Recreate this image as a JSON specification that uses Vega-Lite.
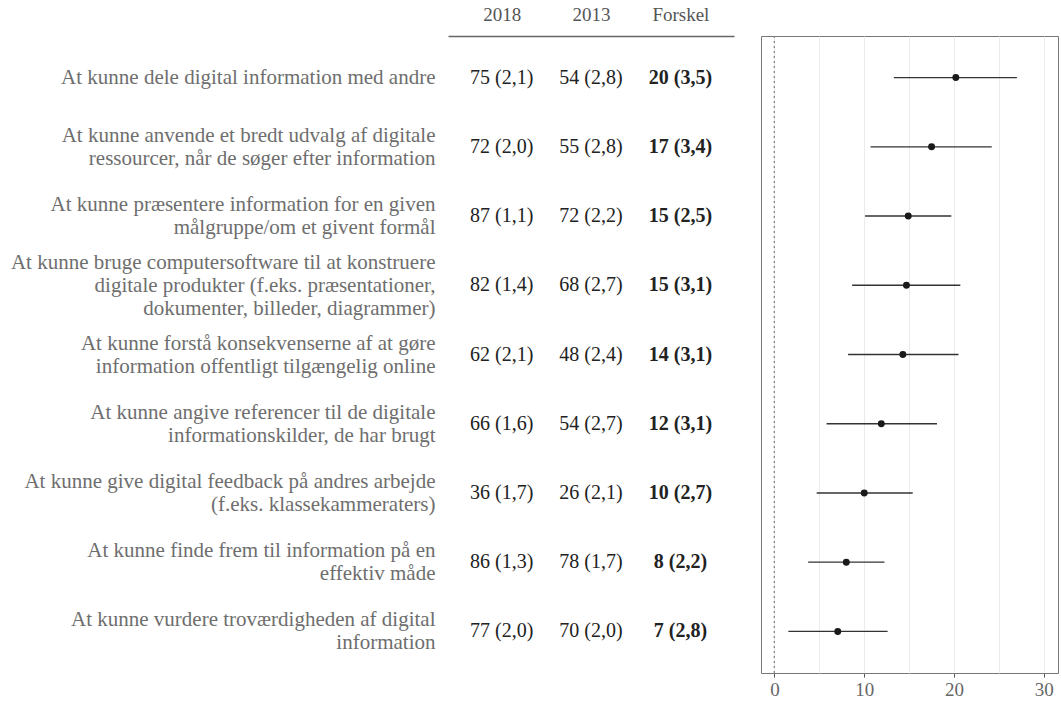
{
  "$schema": "https://vega.github.io/schema/vega-lite/v6.json",
  "padding": {"left": 5, "top": 5, "right": 0, "bottom": 0},
  "background": "white",
  "config": {
    "font": "Liberation Serif",
    "view": {"stroke": null},
    "concat": {"spacing": 26}
  },
  "data": {
    "values": [
      {"item": "At kunne dele digital information med andre", "t2018": "75 (2,1)", "t2013": "54 (2,8)", "tdiff": "20 (3,5)", "est": 20.2, "lo": 13.3, "hi": 27.0},
      {"item": "At kunne anvende et bredt udvalg af digitale\nressourcer, når de søger efter information", "t2018": "72 (2,0)", "t2013": "55 (2,8)", "tdiff": "17 (3,4)", "est": 17.5, "lo": 10.7, "hi": 24.2},
      {"item": "At kunne præsentere information for en given\nmålgruppe/om et givent formål", "t2018": "87 (1,1)", "t2013": "72 (2,2)", "tdiff": "15 (2,5)", "est": 14.9, "lo": 10.1, "hi": 19.7},
      {"item": "At kunne bruge computersoftware til at konstruere\ndigitale produkter (f.eks. præsentationer,\ndokumenter, billeder, diagrammer)", "t2018": "82 (1,4)", "t2013": "68 (2,7)", "tdiff": "15 (3,1)", "est": 14.7, "lo": 8.65, "hi": 20.7},
      {"item": "At kunne forstå konsekvenserne af at gøre\ninformation offentligt tilgængelig online", "t2018": "62 (2,1)", "t2013": "48 (2,4)", "tdiff": "14 (3,1)", "est": 14.3, "lo": 8.2, "hi": 20.5},
      {"item": "At kunne angive referencer til de digitale\ninformationskilder, de har brugt", "t2018": "66 (1,6)", "t2013": "54 (2,7)", "tdiff": "12 (3,1)", "est": 11.9, "lo": 5.8, "hi": 18.1},
      {"item": "At kunne give digital feedback på andres arbejde\n(f.eks. klassekammeraters)", "t2018": "36 (1,7)", "t2013": "26 (2,1)", "tdiff": "10 (2,7)", "est": 10.0, "lo": 4.7, "hi": 15.4},
      {"item": "At kunne finde frem til information på en\neffektiv måde", "t2018": "86 (1,3)", "t2013": "78 (1,7)", "tdiff": "8 (2,2)", "est": 8.0, "lo": 3.75, "hi": 12.25},
      {"item": "At kunne vurdere troværdigheden af digital\ninformation", "t2018": "77 (2,0)", "t2013": "70 (2,0)", "tdiff": "7 (2,8)", "est": 7.05, "lo": 1.55, "hi": 12.6}
    ]
  },
  "hconcat": [
    {
      "width": 286,
      "height": 637,
      "encoding": {
        "y": {
          "field": "item", "type": "nominal", "sort": null,
          "scale": {"type": "point", "padding": 0.6},
          "axis": {
            "title": null, "domain": false, "ticks": false,
            "labelExpr": "split(datum.label, '\\n')",
            "labelFontSize": 21, "labelColor": "#6e6e6e", "labelLineHeight": 23,
            "labelPadding": 13, "labelLimit": 600, "labelFont": "Liberation Serif",
            "minExtent": 443, "maxExtent": 443,
            "labelOffset": {
              "condition": [
                {"test": "length(split(datum.value, '\\n')) == 3", "value": -23},
                {"test": "length(split(datum.value, '\\n')) == 2", "value": -11.5}
              ],
              "value": 0
            }
          }
        }
      },
      "layer": [
        {
          "mark": {"type": "text", "fontSize": 20, "color": "#222222", "align": "center", "baseline": "middle"},
          "encoding": {
            "x": {"datum": "2018", "type": "ordinal",
              "scale": {"type": "point", "domain": ["2018", "2013", "Forskel"], "padding": 0.6},
              "axis": {"orient": "top", "title": null, "ticks": false, "domainColor": "#666666", "domainWidth": 1.3,
                "labelFontSize": 19, "labelColor": "#555555", "labelPadding": 12, "labelAngle": 0,
                "labelFont": "Liberation Serif", "minExtent": 31, "maxExtent": 31}},
            "text": {"field": "t2018"}
          }
        },
        {
          "mark": {"type": "text", "fontSize": 20, "color": "#222222", "align": "center", "baseline": "middle"},
          "encoding": {
            "x": {"datum": "2013", "type": "ordinal"},
            "text": {"field": "t2013"}
          }
        },
        {
          "mark": {"type": "text", "fontSize": 20, "fontWeight": "bold", "color": "#222222", "align": "center", "baseline": "middle"},
          "encoding": {
            "x": {"datum": "Forskel", "type": "ordinal"},
            "text": {"field": "tdiff"}
          }
        }
      ]
    },
    {
      "width": 297,
      "height": 637,
      "view": {"stroke": "#777777", "strokeWidth": 1},
      "encoding": {
        "y": {"field": "item", "type": "nominal", "sort": null, "scale": {"type": "point", "padding": 0.6}, "axis": null}
      },
      "layer": [
        {
          "mark": {"type": "rule", "color": "#8a8a8a", "strokeDash": [2, 3], "strokeWidth": 1},
          "encoding": {
            "x": {"datum": 0, "type": "quantitative",
              "scale": {"domain": [-1.5, 31.58], "nice": false, "zero": false},
              "axis": {"title": null, "values": [0, 5, 10, 15, 20, 25, 30], "grid": true, "gridColor": "#ebebeb", "gridWidth": 1,
                "domain": false, "tickSize": 4, "tickColor": "#555555",
                "tickOpacity": {"condition": {"test": "datum.value % 10 != 0", "value": 0}, "value": 1},
                "labelExpr": "datum.value % 10 == 0 ? datum.label : ''",
                "labelFontSize": 19, "labelColor": "#666666", "labelPadding": 3, "labelFont": "Liberation Serif"}},
            "y": null
          }
        },
        {
          "mark": {"type": "rule", "color": "#333333", "strokeWidth": 1.3},
          "encoding": {
            "x": {"field": "lo", "type": "quantitative"},
            "x2": {"field": "hi"}
          }
        },
        {
          "mark": {"type": "point", "filled": true, "color": "#1a1a1a", "opacity": 1, "size": 48},
          "encoding": {
            "x": {"field": "est", "type": "quantitative"}
          }
        }
      ]
    }
  ]
}
